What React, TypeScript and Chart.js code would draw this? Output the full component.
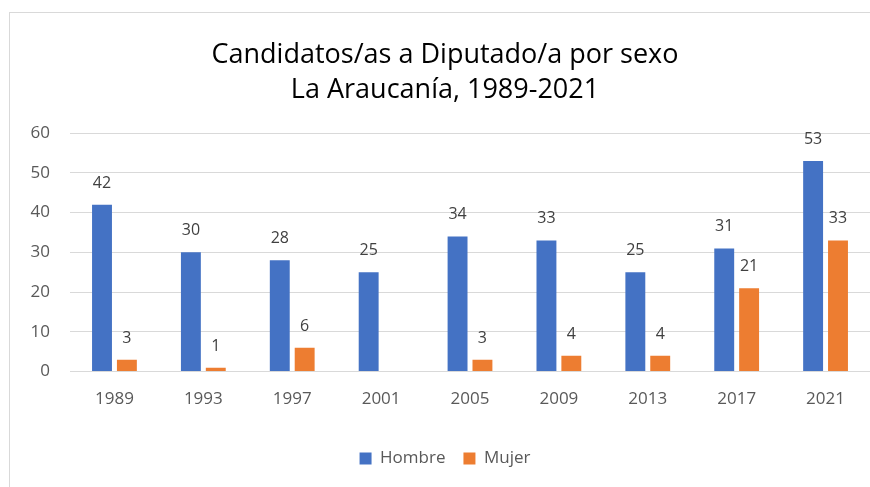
import React, { useEffect, useRef } from "react";
import { Chart, registerables } from "chart.js";

Chart.register(...registerables);

const categories = ["1989", "1993", "1997", "2001", "2005", "2009", "2013", "2017", "2021"];
const hombre = [42, 30, 28, 25, 34, 33, 25, 31, 53];
const mujer: (number | null)[] = [3, 1, 6, null, 3, 4, 4, 21, 33];
const titleLines = ["Candidatos/as a Diputado/a por sexo", "La Araucanía, 1989-2021"];
const FONT = "'Open Sans', Lato, sans-serif";

const framePlugin = {
  id: "frame",
  beforeDraw(chart: any) {
    const ctx = chart.ctx;
    ctx.save();
    ctx.fillStyle = "#ffffff";
    ctx.fillRect(0, 0, chart.width, chart.height);
    ctx.strokeStyle = "#d9d9d9";
    ctx.lineWidth = 1;
    ctx.strokeRect(9.5, 12.5, chart.width + 20, chart.height + 20);
    ctx.restore();
  },
};

const labelPlugin = {
  id: "valueLabels",
  afterDatasetsDraw(chart: any) {
    const ctx = chart.ctx;
    ctx.save();
    ctx.font = `16px ${FONT}`;
    ctx.fillStyle = "#404040";
    ctx.textAlign = "center";
    ctx.textBaseline = "alphabetic";
    chart.data.datasets.forEach((ds: any, i: number) => {
      const meta = chart.getDatasetMeta(i);
      meta.data.forEach((bar: any, j: number) => {
        const v = ds.data[j];
        if (v === null || v === undefined) return;
        ctx.fillText(String(v), bar.x, bar.y - 17);
      });
    });
    ctx.restore();
  },
};

export default function App() {
  const ref = useRef<HTMLCanvasElement>(null);
  useEffect(() => {
    document.body.style.margin = "0";
    if (!ref.current) return;
    const chart = new Chart(ref.current, {
      type: "bar",
      data: {
        labels: categories,
        datasets: [
          {
            label: "Hombre",
            data: hombre,
            backgroundColor: "#4472C4",
            categoryPercentage: 0.56,
            barPercentage: 0.8,
          },
          {
            label: "Mujer",
            data: mujer,
            backgroundColor: "#ED7D31",
            categoryPercentage: 0.56,
            barPercentage: 0.8,
          },
        ],
      },
      options: {
        responsive: false,
        animation: false,
        layout: { padding: { left: 20, right: 0, top: 0, bottom: 10 } },
        plugins: {
          title: {
            display: true,
            text: titleLines,
            color: "#000000",
            font: { family: FONT, size: 27, weight: "normal", lineHeight: 1.28 },
            padding: { top: 38, bottom: 26 },
          },
          legend: {
            position: "bottom",
            labels: {
              color: "#595959",
              font: { family: FONT, size: 17 },
              boxWidth: 12,
              boxHeight: 12,
              padding: 18,
            },
          },
          tooltip: { enabled: false },
        },
        scales: {
          x: {
            afterFit: (s: any) => {
              s.height += 6;
            },
            grid: { display: false, drawTicks: false },
            border: { display: true, color: "#d9d9d9", width: 1 },
            ticks: { color: "#595959", font: { family: FONT, size: 17 }, padding: 17 },
          },
          y: {
            min: 0,
            max: 60,
            afterFit: (s: any) => {
              s.width = 50;
            },
            grid: { color: "#d9d9d9", drawTicks: false },
            border: { display: false },
            ticks: { stepSize: 10, color: "#595959", font: { family: FONT, size: 17 }, padding: 20 },
          },
        },
      },
      plugins: [framePlugin, labelPlugin],
    });
    return () => chart.destroy();
  }, []);
  return (
    <div style={{ width: 870, height: 487 }}>
      <canvas ref={ref} width={870} height={487} />
    </div>
  );
}
